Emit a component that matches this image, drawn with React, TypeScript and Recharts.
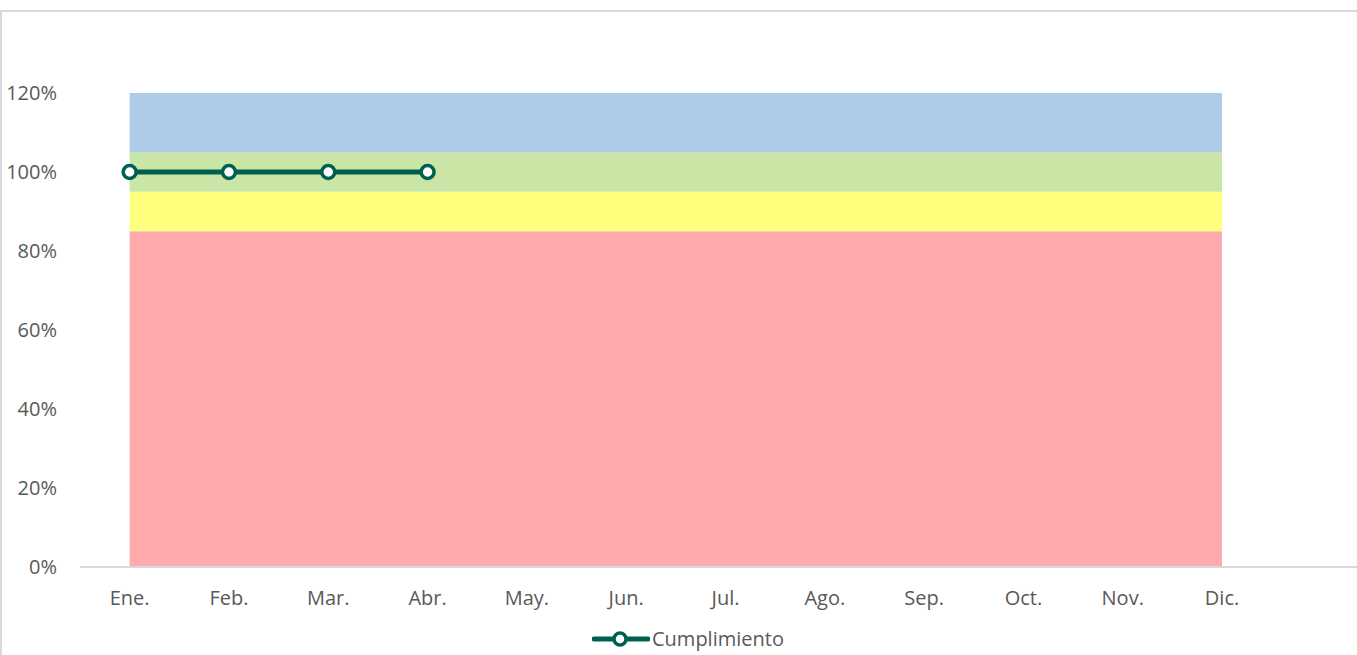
import { ComposedChart, Area, Line, XAxis, YAxis } from 'recharts';

const meses = ['Ene.', 'Feb.', 'Mar.', 'Abr.', 'May.', 'Jun.', 'Jul.', 'Ago.', 'Sep.', 'Oct.', 'Nov.', 'Dic.', ''];
const rojo = [85, 85, 85, 85, 85, 85, 85, 85, 85, 85, 85, 85, null];
const amarillo = [10, 10, 10, 10, 10, 10, 10, 10, 10, 10, 10, 10, null];
const verde = [10, 10, 10, 10, 10, 10, 10, 10, 10, 10, 10, 10, null];
const azul = [15, 15, 15, 15, 15, 15, 15, 15, 15, 15, 15, 15, null];
const cumplimiento = [100, 100, 100, 100, null, null, null, null, null, null, null, null, null];
const yTicks = [0, 20, 40, 60, 80, 100, 120];

const data = meses.map((mes, i) => ({
  mes,
  rojo: rojo[i],
  amarillo: amarillo[i],
  verde: verde[i],
  azul: azul[i],
  cumplimiento: cumplimiento[i],
}));

const FONT = '"Open Sans", sans-serif';
const TEXT = '#595959';
const TEAL = '#00604f';

export default function App() {
  return (
    <div style={{ position: 'fixed', left: 0, top: 0, width: 1357, height: 655, overflow: 'hidden', background: '#fff', fontFamily: FONT }}>
      <div style={{ position: 'absolute', left: 0, top: 10, width: 1400, height: 700, borderTop: '2px solid #d9d9d9', borderLeft: '2px solid #d9d9d9' }} />
      <div style={{ position: 'absolute', left: 0, top: 0 }}>
        <ComposedChart width={1371} height={655} data={data} margin={{ top: 93, right: 0, bottom: 48, left: 0 }}>
          <XAxis
            dataKey="mes"
            scale="band"
            interval={0}
            height={40}
            tickLine={false}
            tickSize={0}
            tickMargin={24}
            axisLine={{ stroke: '#d9d9d9', strokeWidth: 2 }}
            tick={{ fill: TEXT, fontSize: 20, fontFamily: FONT }}
          />
          <YAxis
            width={80}
            domain={[0, 120]}
            ticks={yTicks}
            axisLine={false}
            tickLine={false}
            tickSize={0}
            tickMargin={23}
            tickFormatter={(v: number) => `${v}%`}
            tick={{ fill: TEXT, fontSize: 20, fontFamily: FONT }}
          />
          <Area type="linear" dataKey="rojo" stackId="s" stroke="none" fill="#ffabad" fillOpacity={1} isAnimationActive={false} />
          <Area type="linear" dataKey="amarillo" stackId="s" stroke="none" fill="#ffff7e" fillOpacity={1} isAnimationActive={false} />
          <Area type="linear" dataKey="verde" stackId="s" stroke="none" fill="#c9e6a6" fillOpacity={1} isAnimationActive={false} />
          <Area type="linear" dataKey="azul" stackId="s" stroke="none" fill="#aecbe8" fillOpacity={1} isAnimationActive={false} />
          <Line
            type="linear"
            dataKey="cumplimiento"
            stroke={TEAL}
            strokeWidth={5}
            dot={{ r: 6.5, fill: '#fff', stroke: TEAL, strokeWidth: 3.5 }}
            activeDot={false}
            isAnimationActive={false}
          />
        </ComposedChart>
      </div>
      <div style={{ position: 'absolute', left: 592, top: 628, height: 22, lineHeight: '22px', display: 'flex', alignItems: 'center', color: TEXT, fontSize: 20 }}>
        <svg width={58} height={20} style={{ marginRight: 2 }}>
          <line x1={2} y1={10} x2={56} y2={10} stroke={TEAL} strokeWidth={5} strokeLinecap="round" />
          <circle cx={28} cy={10} r={6} fill="#fff" stroke={TEAL} strokeWidth={3.5} />
        </svg>
        <span>Cumplimiento</span>
      </div>
    </div>
  );
}
